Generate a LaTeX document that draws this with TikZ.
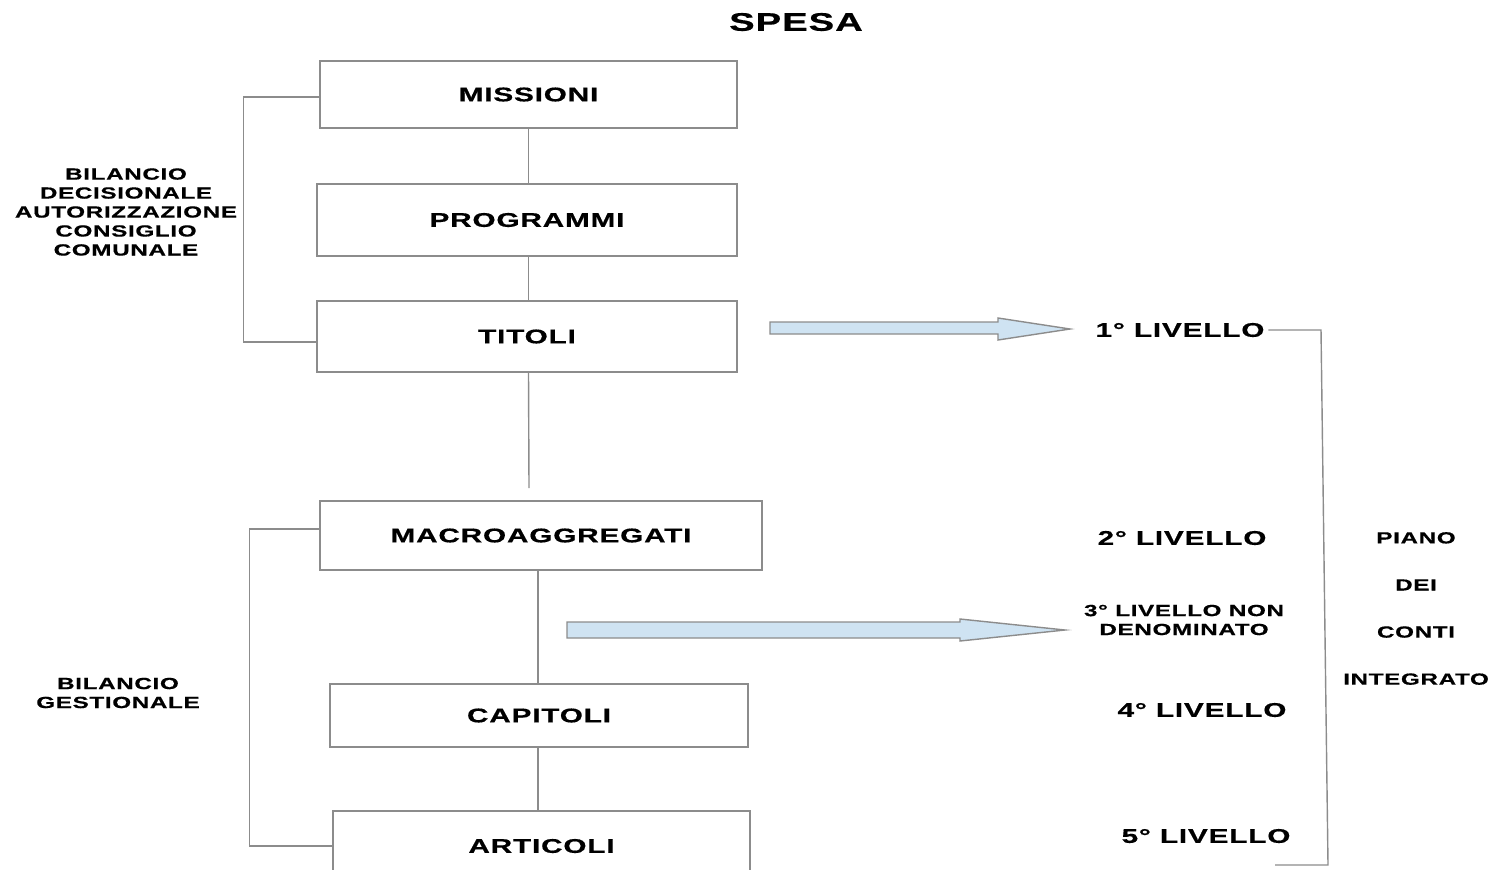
\documentclass[tikz,border=0pt]{standalone}
\usepackage{fontspec}
\setmainfont{Liberation Sans}[FakeStretch=1.5, LetterSpace=4, FakeBold=0.5]
\usetikzlibrary{positioning}
\definecolor{linegray}{RGB}{140,140,140}
\definecolor{arrowblue}{RGB}{207,227,242}

\begin{document}
\begin{tikzpicture}[x=0.02cm, y=-0.02cm,
        box/.style={rectangle, draw=linegray, line width=0.8pt, align=center, inner sep=0pt, font=\fontsize{11.3}{13}\selectfont\bfseries},
        conn/.style={draw=linegray, line width=0.8pt},
        lvl/.style={align=center, inner sep=2pt, font=\fontsize{11.3}{13}\selectfont\bfseries},
        side/.style={align=center, inner sep=0pt, font=\fontsize{9.2}{10.8}\selectfont\bfseries},
        barrow/.style={draw=linegray, fill=arrowblue, line width=0.8pt}
    ]
        \useasboundingbox (0,0) rectangle (1493,869);

        \node[font=\fontsize{14.5}{16}\selectfont\bfseries] (spesa) at (796,22) {SPESA};

        % boxes
        \node[box, minimum width=8.34cm, minimum height=1.34cm] (missioni) at (528.5,94.5) {MISSIONI};
        \node[box, minimum width=8.4cm, minimum height=1.44cm] (programmi) at (527,220) {PROGRAMMI};
        \node[box, minimum width=8.4cm, minimum height=1.42cm] (titoli) at (527,336.5) {TITOLI};
        \node[box, minimum width=8.84cm, minimum height=1.38cm] (macro) at (541,535.5) {MACROAGGREGATI};
        \node[box, minimum width=8.36cm, minimum height=1.26cm] (capitoli) at (539,715.5) {CAPITOLI};
        \node[box, minimum width=8.34cm, minimum height=1.4cm] (articoli) at (541.5,846) {ARTICOLI};

        % side labels
        \node[side] (decisionale) at (126,212) {BILANCIO\\DECISIONALE\\AUTORIZZAZIONE\\CONSIGLIO\\COMUNALE};
        \node[side] (gestionale) at (118,693) {BILANCIO\\GESTIONALE};
        \node[side, font=\fontsize{9.2}{26.8}\selectfont\bfseries] (piano) at (1416,608.5) {PIANO\\DEI\\CONTI\\INTEGRATO};

        % levels
        \node[lvl] (lv1) at (1180,330) {1° LIVELLO};
        \node[lvl] (lv2) at (1182,538) {2° LIVELLO};
        \node[side] (lv3) at (1184,620) {3° LIVELLO NON\\DENOMINATO};
        \node[lvl] (lv4) at (1202,710) {4° LIVELLO};
        \node[lvl] (lv5) at (1206,836) {5° LIVELLO};

        % vertical links
        \coordinate (titend) at (529,488);
        \draw[conn] (missioni.south) -- (missioni.south |- programmi.north);
        \draw[conn] (missioni.south |- programmi.south) -- (missioni.south |- titoli.north);
        \draw[conn] (missioni.south |- titoli.south) -- (titend);
        \draw[conn] (capitoli.north -| 538,0) -- (macro.south -| 538,0);
        \draw[conn] (capitoli.south -| 538,0) -- (articoli.north -| 538,0);

        % brackets
        \draw[conn] ([yshift=-0.05cm]missioni.west) -- ++(-76,0) |- ([yshift=-0.11cm]titoli.west);
        \draw[conn] ([yshift=0.13cm]macro.west) -- ++(-70,0) |- (articoli.west);
        \coordinate (brtop) at (1321,330);
        \coordinate (brbot) at (1328,865);
        \draw[conn] (lv1.east) -- (brtop) -- (brbot) -- ++(-53,0);

        % block arrows
        \filldraw[barrow] (770,322) -- (998,322) -- (998,318) -- (1070,329) -- (998,340) -- (998,334) -- (770,334) -- cycle;
        \filldraw[barrow] (567,622) -- (960,622) -- (960,619) -- (1065,630) -- (960,641) -- (960,638) -- (567,638) -- cycle;
    \end{tikzpicture}
\end{document}
